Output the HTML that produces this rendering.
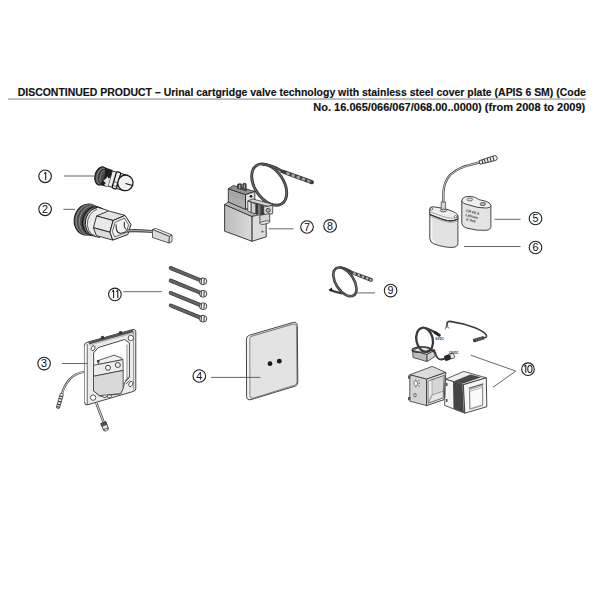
<!DOCTYPE html>
<html><head><meta charset="utf-8">
<style>
html,body{margin:0;padding:0;background:#fff;}
body{width:600px;height:600px;overflow:hidden;position:relative;font-family:"Liberation Sans",sans-serif;}
svg{position:absolute;left:0;top:0;}
</style></head>
<body>
<svg width="600" height="600" viewBox="0 0 600 600">
<!-- defs -->
<defs>
<linearGradient id="gBox" x1="0" y1="0" x2="1" y2="0">
<stop offset="0" stop-color="#bcbcbc"/><stop offset="1" stop-color="#dadada"/></linearGradient>
<linearGradient id="gPlate" x1="0" y1="0" x2="1" y2="1">
<stop offset="0" stop-color="#eaeaea"/><stop offset="1" stop-color="#e0e0e0"/></linearGradient>
</defs>

<!-- header -->
<g font-family="Liberation Sans" font-weight="bold" font-size="11.4" fill="#111" stroke="#111" stroke-width="0.15">
<text x="17.7" y="95.8" textLength="568.2" lengthAdjust="spacingAndGlyphs">DISCONTINUED PRODUCT – Urinal cartgridge valve technology with stainless steel cover plate (APIS 6 SM) (Code</text>
<text x="313.3" y="110.6" textLength="272" lengthAdjust="spacingAndGlyphs">No. 16.065/066/067/068.00..0000) (from 2008 to 2009)</text>
</g>
<rect x="8" y="98.5" width="578" height="1.1" fill="#8c8c8c"/>

<!-- p1 -->
<g transform="translate(101,175.9) rotate(16)" stroke-linejoin="round">
<!-- thread disc -->
<ellipse cx="0" cy="0" rx="6" ry="9.4" fill="#4a4a4a" stroke="#111" stroke-width="1"/>
<ellipse cx="1" cy="0" rx="4.8" ry="8.2" fill="none" stroke="#a0a0a0" stroke-width="0.7"/>
<ellipse cx="1.8" cy="0" rx="3.9" ry="7.4" fill="none" stroke="#2a2a2a" stroke-width="0.7"/>
<ellipse cx="2.6" cy="0" rx="3.2" ry="6.8" fill="none" stroke="#999" stroke-width="0.6"/>
<!-- body dark -->
<path d="M1,-9.3 L9.5,-8.8 L9.5,8.8 L1,9.3 Q6,0 1,-9.3 Z" fill="#1e1e1e"/>
<!-- white body -->
<path d="M9.5,-8 L15,-7.8 L15,7.8 L9.5,8 Z" fill="#ececec" stroke="#111" stroke-width="0.8"/>
<path d="M3.5,4 L6.5,5.5 L5.5,8 L9.5,8.6 L9.5,-1 L7.5,0.5 L6.5,-1.5 L5.5,1.5 Z" fill="#e6e6e6"/>
<!-- ring -->
<rect x="13.8" y="-8.5" width="4.6" height="17" rx="1.4" fill="#f0f0f0" stroke="#111" stroke-width="1.3"/>
<rect x="14.3" y="2" width="3.3" height="3.9" fill="#fff" stroke="#222" stroke-width="0.6"/>
<!-- cap -->
<rect x="18.4" y="-7.8" width="7" height="15.6" fill="#e6e6e6" stroke="#111" stroke-width="0.9"/>
<ellipse cx="25.4" cy="0" rx="7.6" ry="7.8" fill="#f2f2f2" stroke="#111" stroke-width="1.2"/>
<path d="M25.6,0.6 L32.9,0.6" stroke="#111" stroke-width="1.1"/>
</g>

<!-- p2 -->
<g stroke-linejoin="round">
<!-- threads (ellipse stack) -->
<g transform="translate(87.5,219.5) rotate(14)">
<ellipse cx="0" cy="0" rx="13.2" ry="15.7" fill="#5a5a5a" stroke="#111" stroke-width="1"/>
<ellipse cx="1.5" cy="0" rx="12.9" ry="15.4" fill="none" stroke="#9a9a9a" stroke-width="0.7"/>
<ellipse cx="3" cy="0" rx="12.7" ry="15.2" fill="none" stroke="#3a3a3a" stroke-width="0.7"/>
<ellipse cx="4.5" cy="0" rx="12.5" ry="15" fill="none" stroke="#9a9a9a" stroke-width="0.7"/>
<ellipse cx="6" cy="0" rx="12.3" ry="14.9" fill="none" stroke="#3a3a3a" stroke-width="0.7"/>
<ellipse cx="7.4" cy="0" rx="12.2" ry="14.8" fill="#2a2a2a" stroke="#111" stroke-width="0.8"/>
<ellipse cx="8.6" cy="0" rx="12" ry="14.6" fill="#888" stroke="#555" stroke-width="0.6"/>
<ellipse cx="10" cy="0" rx="11.8" ry="14.4" fill="#ededed" stroke="#111" stroke-width="0.9"/>
<ellipse cx="11.6" cy="0.3" rx="11.2" ry="13.8" fill="#ececec" stroke="#333" stroke-width="0.7"/>
</g>
<!-- white body right -->
<polygon points="97,207.5 108.5,210.5 108,237 95,236.5" fill="#ececec"/>
<path d="M96,206.8 L108.5,210.6 M95,236.6 L100,237.6" stroke="#222" stroke-width="0.8" fill="none"/>
<!-- hex faces -->
<polygon points="125,215.4 113.1,220.5 96.6,216 108.5,210.9" fill="#e4e4e4" stroke="#222" stroke-width="0.9"/>
<polygon points="113.1,220.5 109.9,232.2 93.4,227.7 96.6,216" fill="#e9e9e9" stroke="#222" stroke-width="0.9"/>
<polygon points="109.9,232.2 112.8,240.1 96.3,235.6 93.4,227.7" fill="#dcdcdc" stroke="#222" stroke-width="0.9"/>
<!-- end face -->
<polygon points="125,215.4 131,224.5 127.8,234.5 112.8,240.1 109.9,232.2 113.1,220.5" fill="#ececec" stroke="#222" stroke-width="1"/>
<polygon points="124.3,218.2 128.6,224.8 126.2,232.6 114.6,236.9 112.4,231.6 115,222.4" fill="#f3f3f3" stroke="#333" stroke-width="0.7"/>
<path d="M116,224.5 L116.5,230 Q118,234 122,233 L127,231.5 M124.5,222 Q123.5,226 125.5,229" fill="none" stroke="#333" stroke-width="1.1"/>
<!-- cable -->
<path d="M126,231 Q135,230 152,231.5" fill="none" stroke="#484848" stroke-width="3.2"/>
<path d="M126,231 Q135,230 152,231.5" fill="none" stroke="#c8c8c8" stroke-width="0.8"/>
<!-- connector -->
<polygon points="152.5,229.5 155.5,228.3 172,235 169.5,236.5" fill="#f2f2f2" stroke="#333" stroke-width="0.8"/>
<polygon points="152.5,229.5 169.5,236.5 169,243 152.5,237.5" fill="#dadada" stroke="#333" stroke-width="0.8"/>
<polygon points="169.5,236.5 172,235 172,241.5 169,243" fill="#f0f0f0" stroke="#333" stroke-width="0.8"/>
</g>

<!-- p78 -->
<g stroke-linejoin="round">
<!-- cable loop -->
<ellipse cx="269.2" cy="184.6" rx="22.9" ry="14.4" transform="rotate(56 269.2 184.6)" fill="none" stroke="#333" stroke-width="2.9"/>
<ellipse cx="269.2" cy="184.6" rx="22.9" ry="14.4" transform="rotate(56 269.2 184.6)" fill="none" stroke="#707070" stroke-width="1"/>
<path d="M262,164.3 Q272,164.5 281,170.5" fill="none" stroke="#333" stroke-width="2.7"/>
<path d="M262,164.3 Q272,164.5 281,170.5" fill="none" stroke="#707070" stroke-width="0.9"/>
<!-- probe -->
<g transform="translate(280.5,170.8) rotate(20)">
<path d="M0,-1.6 L4,-2 L33,-2.1 Q35.5,-2.1 35.5,0 Q35.5,2.1 33,2.1 L4,2 L0,1.6 Z" fill="#3c3c3c"/>
<ellipse cx="8" cy="0" rx="2" ry="1.5" fill="#a0a0a0"/>
<ellipse cx="13.5" cy="0" rx="2" ry="1.5" fill="#a0a0a0"/>
<ellipse cx="19" cy="0" rx="2" ry="1.5" fill="#a0a0a0"/>
<ellipse cx="24.5" cy="0" rx="2" ry="1.5" fill="#a0a0a0"/>
<ellipse cx="30" cy="0" rx="1.9" ry="1.4" fill="#999"/>
</g>
<!-- lower box -->
<polygon points="224.6,204.5 252.1,216.5 252.1,241.3 224.6,231.2" fill="url(#gBox)" stroke="#2a2a2a" stroke-width="0.9"/>
<polygon points="252.1,216.5 266.2,212.8 266.2,236.8 252.1,241.3" fill="#dcdcdc" stroke="#2a2a2a" stroke-width="0.9"/>
<polygon points="224.6,204.5 228.6,201.8 256,212.6 252.1,216.5" fill="#b4b4b4" stroke="#2a2a2a" stroke-width="0.8"/>
<circle cx="262.5" cy="231.5" r="1" fill="#555"/>
<!-- upper block -->
<polygon points="228.3,188.7 245.5,194.7 245.5,209.5 228.3,202" fill="#acacac" stroke="#2a2a2a" stroke-width="0.9"/>
<path d="M228.3,191.5 L245.5,197.5 M228.3,194 L245.5,200" stroke="#888" stroke-width="0.5"/>
<polygon points="228.3,188.7 233.5,185.5 254.8,191.5 245.5,194.7" fill="#9c9c9c" stroke="#2a2a2a" stroke-width="0.9"/>
<path d="M230,188 L247,193.6 M232,187 L250,192.6" stroke="#777" stroke-width="0.5"/>
<polygon points="245.5,194.7 254.8,191.5 254.8,205 245.5,209.5" fill="#dedede" stroke="#2a2a2a" stroke-width="0.9"/>
<circle cx="251" cy="196.3" r="1.4" fill="#222"/>
<!-- knob -->
<path d="M237.5,188.5 L237.5,184.8 Q237.5,183.8 238.8,183.8 L240.8,183.8 Q241.8,183.8 241.8,184.8 L241.8,189.5 Z" fill="#4a4a4a" stroke="#222" stroke-width="0.6"/>
<path d="M242.8,189.8 L242.8,184.3 Q242.8,183.3 244,183.3 L245.2,183.3 Q246.2,183.3 246.2,184.3 L246.2,190.8 Z" fill="#4a4a4a" stroke="#222" stroke-width="0.6"/>
<rect x="239" y="185" width="1.2" height="3.5" fill="#aaa"/>
<rect x="243.9" y="184.5" width="1.1" height="4" fill="#aaa"/>
<!-- plug -->
<polygon points="247.8,201 252.5,199 273,204.3 268.5,206.5" fill="#d6d6d6" stroke="#333" stroke-width="0.8"/>
<polygon points="247.8,201 251.2,202.3 251.2,212.5 247.8,211" fill="#f2f2f2" stroke="#333" stroke-width="0.8"/>
<polygon points="251.2,202.3 256,203.8 256,214 251.2,212.5" fill="#d0d0d0" stroke="#333" stroke-width="0.8"/>
<polygon points="256,203.8 263.5,205.8 263.5,216 256,214" fill="#3a3a3a" stroke="#222" stroke-width="0.7"/>
<polygon points="258,204.6 260.5,205.2 260.5,215.4 258,214.8" fill="#7a7a7a"/>
<polygon points="263.5,207 272.7,205.3 272.7,213.6 264,215.6" fill="#d8d8d8" stroke="#333" stroke-width="0.8"/>
<circle cx="268.2" cy="210.3" r="2" fill="#aaa" stroke="#333" stroke-width="0.8"/>
<polygon points="259.8,215.3 269.7,213.5 269.7,221.8 260,223.5" fill="#d4d4d4" stroke="#333" stroke-width="0.8"/>
<ellipse cx="264.8" cy="222.6" rx="5" ry="1.5" transform="rotate(-10 264.8 222.6)" fill="#ececec" stroke="#333" stroke-width="0.7"/>
</g>

<!-- p56 -->
<g stroke-linejoin="round">
<!-- cable -->
<path d="M443.3,202 L443.4,192 Q444,182 450,175 Q459,167 470,164.8 L480,162.3" fill="none" stroke="#444" stroke-width="2.3"/>
<path d="M443.3,202 L443.4,192 Q444,182 450,175 Q459,167 470,164.8 L480,162.3" fill="none" stroke="#d8d8d8" stroke-width="0.9"/>
<!-- probe -->
<g transform="translate(479.5,162.5) rotate(-16)">
<path d="M0,-1.8 L16,-2.5 Q18.3,-2.5 18.3,0 Q18.3,2.5 16,2.5 L0,1.8 Z" fill="#efefef" stroke="#333" stroke-width="0.8"/>
<path d="M3,-2 L3,2 M5.5,-2.2 L5.5,2.2 M8.5,-2.3 L8.5,2.3 M11.5,-2.4 L11.5,2.4 M14.5,-2.5 L14.5,2.5" stroke="#333" stroke-width="1"/>
</g>
<!-- holder body -->
<path d="M429.8,209 L429.8,238.5 Q430,242.5 434,244 Q445,247.8 453,247.4 Q457.8,246.8 457.9,243.5 L457.9,215.5 Z" fill="#e2e2e2" stroke="#333" stroke-width="0.9"/>
<path d="M431.5,216 L431.5,238 Q432,241.5 435,242.5" fill="none" stroke="#fff" stroke-width="1.5" opacity="0.7"/>
<!-- lid -->
<path d="M429.8,209 Q429.8,206.5 433,206.8 Q441,207.5 449,210 Q457.9,213 457.9,216 L457.9,219 Q452,222.5 443,219.5 Q436,217 429.8,214.5 Z" fill="#eeeeee" stroke="#333" stroke-width="0.9"/>
<path d="M429.8,214.5 Q436,217 443,219.5 Q452,222.5 457.9,219" fill="none" stroke="#333" stroke-width="1.2"/>
<path d="M430.5,216.5 Q437,219 443,221 Q452,224 457.5,221" fill="none" stroke="#888" stroke-width="0.6"/>
<path d="M430.5,212 Q437,214.5 444,216.8 Q452,219.5 457.5,216.8" fill="none" stroke="#777" stroke-width="0.6"/>
<circle cx="431.5" cy="209" r="1.2" fill="#fff" stroke="#333" stroke-width="0.6"/>
<circle cx="455.5" cy="216.8" r="1.2" fill="#fff" stroke="#333" stroke-width="0.6"/>
<!-- sleeve -->
<rect x="441.2" y="202" width="4.4" height="8.5" fill="#d6d6d6" stroke="#333" stroke-width="0.7"/>
<ellipse cx="443.4" cy="210.5" rx="3.2" ry="1.4" fill="#ccc" stroke="#333" stroke-width="0.7"/>
<!-- battery 5 -->
<path d="M461.8,201 L461.8,223.5 Q462.5,227 467,228.2 Q478,231 486,230.3 Q490.9,229.8 490.9,226.5 L490.9,205.5 Z" fill="#e4e4e4" stroke="#333" stroke-width="0.9"/>
<path d="M461.8,201 Q461.8,197.8 465.5,196.8 Q470,195.8 474.5,197.2 Q477,198.2 478.8,199.6 Q481.5,200.3 485,201 Q490.9,202.5 490.9,205.5 Q490.5,208 485.5,208 Q478,208.2 470,205.2 Q461.8,203.5 461.8,201 Z" fill="#f0f0f0" stroke="#333" stroke-width="0.9"/>
<ellipse cx="469.9" cy="199.5" rx="2.8" ry="1.5" fill="#ddd" stroke="#444" stroke-width="0.7"/>
<ellipse cx="482.8" cy="204" rx="2.8" ry="1.6" fill="#aaa" stroke="#444" stroke-width="0.7"/>
<g font-family="Liberation Sans" font-weight="bold" font-size="3.6" fill="#333" transform="rotate(14 472 216)">
<text x="465" y="213.3" textLength="13.5" lengthAdjust="spacingAndGlyphs">CR-P2-S</text>
<text x="465.5" y="217.5" textLength="12.5" lengthAdjust="spacingAndGlyphs">Lithium</text>
<text x="467.3" y="221.7" textLength="9.5" lengthAdjust="spacingAndGlyphs">6 Volt</text>
</g>
</g>

<!-- p11 -->
<g>
<line x1="170.8" y1="268.1" x2="201.1" y2="280.5" stroke="#383838" stroke-width="4" stroke-linecap="round"/>
<line x1="170.8" y1="268.1" x2="201.1" y2="280.5" stroke="#646464" stroke-width="2.5" stroke-linecap="round"/>
<ellipse cx="203.1" cy="281.3" rx="3.7" ry="3.4" fill="#ececec" stroke="#333" stroke-width="0.9"/>
<path d="M201.5,278.7 L201.1,283.90000000000003 M204.29999999999998,278.7 L203.9,283.90000000000003" stroke="#444" stroke-width="1"/>
<line x1="170.8" y1="280.6" x2="201.1" y2="293.0" stroke="#383838" stroke-width="4" stroke-linecap="round"/>
<line x1="170.8" y1="280.6" x2="201.1" y2="293.0" stroke="#646464" stroke-width="2.5" stroke-linecap="round"/>
<ellipse cx="203.1" cy="293.8" rx="3.7" ry="3.4" fill="#ececec" stroke="#333" stroke-width="0.9"/>
<path d="M201.5,291.2 L201.1,296.40000000000003 M204.29999999999998,291.2 L203.9,296.40000000000003" stroke="#444" stroke-width="1"/>
<line x1="170.8" y1="293.0" x2="201.1" y2="305.4" stroke="#383838" stroke-width="4" stroke-linecap="round"/>
<line x1="170.8" y1="293.0" x2="201.1" y2="305.4" stroke="#646464" stroke-width="2.5" stroke-linecap="round"/>
<ellipse cx="203.1" cy="306.2" rx="3.7" ry="3.4" fill="#ececec" stroke="#333" stroke-width="0.9"/>
<path d="M201.5,303.59999999999997 L201.1,308.8 M204.29999999999998,303.59999999999997 L203.9,308.8" stroke="#444" stroke-width="1"/>
<line x1="170.8" y1="305.5" x2="201.1" y2="317.9" stroke="#383838" stroke-width="4" stroke-linecap="round"/>
<line x1="170.8" y1="305.5" x2="201.1" y2="317.9" stroke="#646464" stroke-width="2.5" stroke-linecap="round"/>
<ellipse cx="203.1" cy="318.7" rx="3.7" ry="3.4" fill="#ececec" stroke="#333" stroke-width="0.9"/>
<path d="M201.5,316.09999999999997 L201.1,321.3 M204.29999999999998,316.09999999999997 L203.9,321.3" stroke="#444" stroke-width="1"/>
</g>
<!-- p9 -->
<g stroke-linejoin="round">
<ellipse cx="344.9" cy="281.9" rx="16.1" ry="9.0" transform="rotate(57 344.9 281.9)" fill="none" stroke="#383838" stroke-width="2.6"/>
<ellipse cx="344.9" cy="281.9" rx="16.1" ry="9.0" transform="rotate(57 344.9 281.9)" fill="none" stroke="#777" stroke-width="0.8"/>
<path d="M342,293.5 Q336,292 329.5,290" fill="none" stroke="#3c3c3c" stroke-width="2"/>
<path d="M328.5,289.8 L332,287.5 L332.5,291.5 Z" fill="#222"/>
<path d="M340,267 Q346,268 351,271.5" fill="none" stroke="#3c3c3c" stroke-width="2.2"/>
<g transform="translate(350.5,272) rotate(21)">
<path d="M0,-1.6 L22,-1.9 Q24,-1.9 24,0 Q24,1.9 22,1.9 L0,1.6 Z" fill="#444"/>
<rect x="3" y="-1.1" width="2.6" height="2.2" rx="1" fill="#bbb"/>
<rect x="7.5" y="-1.1" width="2.6" height="2.2" rx="1" fill="#bbb"/>
<rect x="12" y="-1.1" width="2.6" height="2.2" rx="1" fill="#bbb"/>
<rect x="16.5" y="-1.1" width="2.6" height="2.2" rx="1" fill="#bbb"/>
<rect x="20.5" y="-1" width="2.3" height="2" rx="0.9" fill="#bbb"/>
</g>
</g>

<!-- p3 -->
<g stroke-linejoin="round">
<!-- left cable -->
<path d="M86,371.5 Q75,373 69,380 Q63.5,387 62,394" fill="none" stroke="#444" stroke-width="2.2"/>
<path d="M86,371.5 Q75,373 69,380 Q63.5,387 62,394" fill="none" stroke="#e0e0e0" stroke-width="0.9"/>
<g transform="translate(62,393.5) rotate(106)">
<rect x="0" y="-1.6" width="15.5" height="3.2" rx="1" fill="#eee" stroke="#333" stroke-width="0.7"/>
<path d="M3,-1.6 L3,1.6 M5.5,-1.6 L5.5,1.6 M8.5,-1.6 L8.5,1.6 M11.5,-1.6 L11.5,1.6 M14,-1.6 L14,1.6" stroke="#333" stroke-width="1.1"/>
</g>
<!-- bottom cable -->
<path d="M96.3,403 L103.7,422.5" fill="none" stroke="#444" stroke-width="2.4"/>
<path d="M96.3,403 L103.7,422.5" fill="none" stroke="#e6e6e6" stroke-width="1"/>
<g transform="translate(103.3,422.6) rotate(-22)">
<rect x="-2.6" y="0" width="5.2" height="7.5" fill="#e8e8e8" stroke="#333" stroke-width="0.8"/>
<rect x="-2.6" y="0" width="5.2" height="3" fill="#555" stroke="#333" stroke-width="0.6"/>
<rect x="-1.8" y="6.5" width="3.6" height="2.2" fill="#ddd" stroke="#333" stroke-width="0.6"/>
</g>
<!-- frame outer -->
<path d="M84.4,345.5 Q84.4,343.2 86.8,342.5 L132.5,329.6 Q135.8,328.8 135.8,332 L135.8,388.5 Q135.8,390.8 133.5,391.4 L88,404.7 Q84.6,405.6 84.6,402.5 Z" fill="#ebebeb" stroke="#333" stroke-width="0.9"/>
<!-- left side strip -->
<path d="M87.3,344 L87.3,404" stroke="#444" stroke-width="0.7"/>
<path d="M85.2,346 L85.2,402" stroke="#fff" stroke-width="1.2"/>
<!-- right strip -->
<path d="M133.6,331.2 L133.6,390.5" stroke="#555" stroke-width="0.6"/>
<!-- top dark band -->
<polygon points="88.5,341.6 132.8,329.6 133.4,332.2 89,344.4" fill="#555"/>
<path d="M89.5,345.2 L133,333.3" stroke="#888" stroke-width="0.5"/>
<rect x="101" y="336" width="3" height="3" fill="#333" transform="rotate(-15 102.5 337.5)"/>
<rect x="119" y="331.2" width="3" height="3" fill="#333" transform="rotate(-15 120.5 332.7)"/>
<!-- inner opening -->
<path d="M93.6,353 L98,347.7 L124.6,339.5 L129.4,342.9 L129.4,377.3 L124.6,382.6 L123.6,386.4 L120.7,393.7 L108.1,395.3 L105.2,397.6 L99.4,395.6 L94.1,391.3 Z" fill="#fff" stroke="#333" stroke-width="0.9"/>
<!-- holes -->
<ellipse cx="93.1" cy="348.2" rx="1.8" ry="2.6" transform="rotate(25 93.1 348.2)" fill="#fff" stroke="#333" stroke-width="0.8"/>
<circle cx="130.8" cy="338" r="2.7" fill="#fff" stroke="#333" stroke-width="0.8"/>
<circle cx="93.1" cy="397.6" r="2.7" fill="#fff" stroke="#333" stroke-width="0.8"/>
<ellipse cx="130.8" cy="384" rx="1.8" ry="2.8" transform="rotate(25 130.8 384)" fill="#fff" stroke="#333" stroke-width="0.8"/>
<!-- module -->
<polygon points="97,360.9 114,355.2 121.6,358 122.9,359.6 98.9,364.3" fill="#f0f0f0" stroke="#333" stroke-width="0.8"/>
<polygon points="93.5,365.3 98.9,364.3 122.9,359.6 123.2,370.4 93.5,376.3" fill="#ececec" stroke="#333" stroke-width="0.8"/>
<polygon points="93.5,376.3 123.2,370.4 123.2,388.4 120.7,393.7 99.4,395.6 94.1,391.3 93.5,391" fill="#d9d9d9" stroke="#333" stroke-width="0.8"/>
<circle cx="108" cy="367.8" r="2.5" fill="#f4f4f4" stroke="#333" stroke-width="0.9"/>
<circle cx="117.8" cy="365" r="2.5" fill="#f4f4f4" stroke="#333" stroke-width="0.9"/>
<rect x="97" y="360" width="2.5" height="2.5" fill="#444"/>
<!-- right inner strip / chamfer detail -->
<path d="M124.8,381 L129,376.5 M126,384 L129.4,380.5" stroke="#333" stroke-width="0.7"/>
<path d="M127,344.5 L127,378.5" stroke="#555" stroke-width="0.7"/>
<!-- cable exit tab -->
<rect x="107.5" y="395" width="4" height="2.5" fill="#ddd" stroke="#444" stroke-width="0.6"/>
</g>

<!-- p4 -->
<g stroke-linejoin="round">
<path d="M246.4,339 Q246.4,336.2 249.5,335.2 L292.5,322.6 Q297,321.4 297.3,325.5 L297.8,382 Q297.9,385.2 295,386.2 L251,399.6 Q246.8,400.6 246.6,396.5 Z" fill="#f2f2f2" stroke="#333" stroke-width="0.9"/>
<path d="M249.8,338.2 Q250.2,336.6 252.5,336 L293,324.2 Q296.4,323.4 296.5,326.5 L297,382 Q297,384.6 294.5,385.3 L253,398.2 Q250,399 249.9,396 Z" fill="#e3e3e3" stroke="#444" stroke-width="0.6"/>
<path d="M250.5,336.5 L293.5,323.6" stroke="#777" stroke-width="0.5" fill="none"/>
<circle cx="270" cy="363.7" r="2.4" fill="#1a1a1a"/>
<circle cx="279.3" cy="361.2" r="2.4" fill="#1a1a1a"/>
</g>

<!-- p10 -->
<g stroke-linejoin="round">
<!-- upper wire -->
<path d="M446.5,327.5 L447.3,322.5 Q448,321.2 450,321.4 Q462,323 475,327.8 Q484,331.5 486.3,335 Q487.5,337.5 483.5,338" fill="none" stroke="#3e3e3e" stroke-width="1.6"/>
<path d="M446.8,325 L445,329.5 M447.2,325.5 L449,328.6" stroke="#666" stroke-width="0.8"/>
<g transform="translate(484,337.6) rotate(163)">
<path d="M0,-1.6 L10,-1.8 Q11.5,-1.8 11.5,0 Q11.5,1.8 10,1.8 L0,1.6 Z" fill="#3e3e3e"/>
<path d="M3,-1.5 L3,1.5 M5.5,-1.6 L5.5,1.6 M8,-1.7 L8,1.7" stroke="#888" stroke-width="0.7"/>
</g>
<!-- small transformer box -->
<polygon points="412.6,350.5 421,346.5 435,350 427,354.5" fill="#e2e2e2" stroke="#333" stroke-width="0.8"/>
<polygon points="412.6,350.5 427,354.5 427,361.5 413,357.5" fill="#bdbdbd" stroke="#333" stroke-width="0.8"/>
<polygon points="427,354.5 435,350 435,356.5 427,361.5" fill="#d0d0d0" stroke="#333" stroke-width="0.8"/>
<!-- flat loop on box -->
<ellipse cx="421" cy="349.6" rx="9" ry="2.6" transform="rotate(-4 421 349.6)" fill="none" stroke="#3a3a3a" stroke-width="1.3"/>
<!-- coil -->
<ellipse cx="424.6" cy="339.8" rx="8.2" ry="12.3" transform="rotate(-12 424.6 339.8)" fill="none" stroke="#3a3a3a" stroke-width="2.3"/>
<path d="M426,328.3 Q432,330 437,333.5" fill="none" stroke="#3a3a3a" stroke-width="2.2"/>
<path d="M435,332.5 L439.3,335.2" stroke="#222" stroke-width="3" stroke-linecap="round"/>
<!-- cable to plug -->
<path d="M430.5,350 Q435,351 436,355 Q437.5,359.5 441,359.5 L446,358.5" fill="none" stroke="#3a3a3a" stroke-width="1.8"/>
<!-- plug -->
<g transform="translate(448,357.5) rotate(-20)">
<rect x="-3.5" y="-2.8" width="6" height="5.6" rx="1" fill="#2a2a2a"/>
<rect x="2.5" y="-2.5" width="4" height="5" rx="0.8" fill="#e8e8e8" stroke="#333" stroke-width="0.7"/>
</g>
<!-- labels -->
<g font-family="Liberation Sans" font-weight="bold" font-size="3.3" fill="#222">
<text x="435.6" y="340.2" textLength="8.4" lengthAdjust="spacingAndGlyphs">6VDC</text>
<text x="449" y="353.5" textLength="9.6" lengthAdjust="spacingAndGlyphs">230VDC</text>
</g>
<!-- open housing -->
<polygon points="409.8,374.8 432.2,366.4 445.8,372.4 426.6,379.2" fill="#dcdcdc" stroke="#333" stroke-width="0.8"/>
<polygon points="409.8,374.8 426.6,379.2 426.6,405.6 409.8,401.2" fill="#d4d4d4" stroke="#333" stroke-width="0.8"/>
<polygon points="426.6,379.2 445.8,372.4 444.2,399.6 426.6,405.6" fill="#e6e6e6" stroke="#333" stroke-width="0.9"/>
<polygon points="428.3,381 444.3,375.3 443,397.8 428.3,403" fill="#d6d6d6" stroke="#333" stroke-width="0.7"/>
<polygon points="428.3,381 432,380 432,395 428.3,403" fill="#ececec" stroke="#666" stroke-width="0.4"/>
<polygon points="428.3,403 432,395 443.2,391.2 443,397.8" fill="#e6e6e6" stroke="#555" stroke-width="0.5"/>


<!-- tabs -->
<rect x="408" y="375.5" width="2.4" height="3.2" fill="#555"/>
<rect x="408" y="397" width="2.4" height="3.2" fill="#555"/>
<!-- sun icon -->
<ellipse cx="415.8" cy="383.4" rx="1.8" ry="2.6" fill="#fff" stroke="#333" stroke-width="0.6"/>
<path d="M418.3,381 L419.6,380.4 M418.6,383.4 L420,383.4 M418.3,385.8 L419.6,386.4 M415.8,380.3 L415.8,379.2 M415.8,386.5 L415.8,387.6" stroke="#333" stroke-width="0.6"/>
<ellipse cx="415" cy="395.2" rx="1.3" ry="1.8" fill="none" stroke="#333" stroke-width="0.6"/>
<!-- transformer unit -->
<polygon points="445.5,379.2 463.9,371.4 486.3,377.8 463.4,384.7" fill="#f0f0f0" stroke="#333" stroke-width="0.8"/>
<polygon points="445.5,379.2 463.4,384.7 464.8,413.2 444.6,405.4" fill="#f4f4f4" stroke="#333" stroke-width="0.8"/>
<polygon points="453.2,381.5 470.4,374.4 481.4,377.2 462.6,383.8" fill="#4a4a4a"/>
<polygon points="453,381.8 462.5,384.5 463.9,412.8 453.5,408.8" fill="#444"/>
<polygon points="463.4,384.7 486.3,377.8 486.8,406.7 464.8,413.2" fill="#f6f6f6" stroke="#333" stroke-width="0.9"/>
<polygon points="469.4,389.8 482.7,385.6 482.7,405.4 469.8,409.3" fill="#fbfbfb" stroke="#555" stroke-width="0.6"/>
<polygon points="469.8,391.5 482.4,387.6 482.4,404.8 470.1,408.6" fill="none" stroke="#777" stroke-width="0.5"/>
<path d="M468.8,388.4 L483.3,383.8" stroke="#666" stroke-width="1.3"/>
<rect x="446" y="383" width="1.5" height="3" fill="#555"/>
<rect x="446" y="399" width="1.5" height="3" fill="#555"/>
</g>

<!-- labels -->
<g stroke="#555" stroke-width="0.9" fill="none">
<line x1="64" y1="176" x2="94" y2="176"/>
<line x1="63.4" y1="209.3" x2="75" y2="209.3"/>
<line x1="268.7" y1="228.8" x2="293.3" y2="228.8"/>
<line x1="494.5" y1="219.3" x2="520.5" y2="219.3"/>
<line x1="464" y1="246.5" x2="520.5" y2="246.5"/>
<line x1="123.3" y1="291.7" x2="161.8" y2="291.7"/>
<line x1="356" y1="292.9" x2="375" y2="292.9"/>
<line x1="62" y1="363.5" x2="87.4" y2="363.5"/>
<line x1="211" y1="377.4" x2="260.3" y2="377.4"/>
<polyline points="470.6,355.1 515.7,371.1 493,387.3"/>
</g>
<g fill="none" stroke="#1e1e1e" stroke-width="1.1">
<circle cx="45.1" cy="176.3" r="6.3"/>
<circle cx="45.1" cy="209.3" r="6.3"/>
<circle cx="307" cy="227" r="6.3"/>
<circle cx="330.1" cy="225.9" r="6.3"/>
<circle cx="535.5" cy="218.5" r="6.3"/>
<circle cx="535.5" cy="247.5" r="6.3"/>
<circle cx="114.9" cy="294.4" r="6.3"/>
<circle cx="390.6" cy="290.6" r="6.3"/>
<circle cx="44.1" cy="363.6" r="6.3"/>
<circle cx="199.3" cy="376" r="6.3"/>
<circle cx="528" cy="369.2" r="6.3"/>
</g>
<g font-family="Liberation Sans" font-size="10.8" fill="#111" stroke="none" text-anchor="middle">
<text x="45.1" y="213.1">2</text>
<text x="307" y="230.8">7</text>
<text x="330.1" y="229.7">8</text>
<text x="535.5" y="222.3">5</text>
<text x="535.5" y="251.3">6</text>
<text x="390.6" y="294.4">9</text>
<text x="44.1" y="367.4">3</text>
<text x="199.3" y="379.8">4</text>
</g>

<path d="M44.1,173.6 L45.7,172.4 L45.7,180.0 M112.0,291.6 L113.6,290.4 L113.6,298.0 M116.2,291.6 L117.8,290.4 L117.8,298.0 M524.2,366.4 L525.8,365.2 L525.8,372.8" fill="none" stroke="#151515" stroke-width="1.05" stroke-linejoin="round"/>
<ellipse cx="529.9" cy="369" rx="2.1" ry="3.6" fill="none" stroke="#151515" stroke-width="1.05"/>

</svg>
</body></html>
